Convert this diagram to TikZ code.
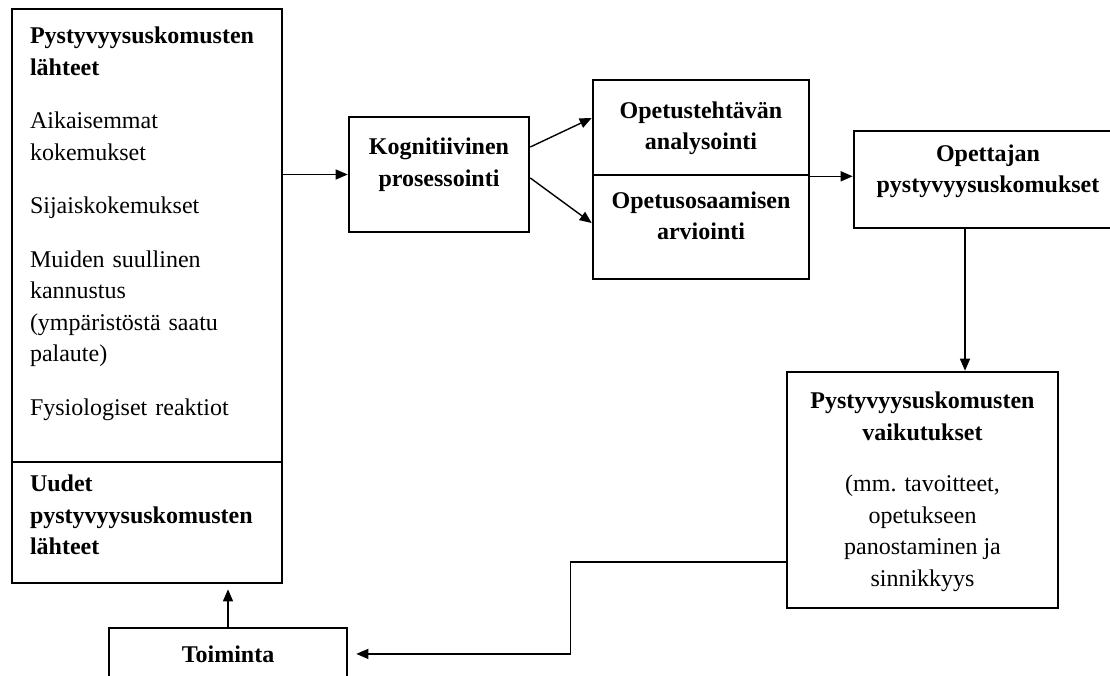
\documentclass[tikz,border=0pt]{standalone}
\usepackage{fontspec}
\setmainfont{Liberation Serif}
\usetikzlibrary{arrows.meta}

\begin{document}
\begin{tikzpicture}[x=1pt, y=-1pt,
    box/.style={draw, line width=2.6pt, inner sep=0pt, font=\fontsize{24}{31.5}\selectfont},
    head/.style={box, font=\fontsize{24}{31.5}\selectfont\bfseries}]
    \useasboundingbox (0,0) rectangle (1110,675);
    \clip (0,0) rectangle (1110,675);

    \node[box, minimum width=270pt, minimum height=453pt, text width=234pt, inner xsep=18pt, align=left, text depth=400.4pt] (lahteet) at (147,235.5)
        {\textbf{Pystyvyysuskomusten}\\\textbf{lähteet}\\[22pt]
         Aikaisemmat\\kokemukset\\[22pt]
         Sijaiskokemukset\\[22pt]
         Muiden suullinen\\kannustus\\(ympäristöstä saatu\\palaute)\\[22pt]
         Fysiologiset reaktiot};
    \node[head, minimum width=270pt, minimum height=121pt, text width=234pt, inner xsep=18pt, align=left, text depth=78.4pt] (uudet) at (147,522.5)
        {Uudet\\pystyvyysuskomusten\\lähteet};

    \node[head, minimum width=180pt, minimum height=115pt, align=center, text depth=24.4pt] (kog) at (439,174.5) {Kognitiivinen\\prosessointi};

    \node[head, minimum width=216pt, minimum height=95pt, align=center, text depth=3.4pt] (analyysi) at (701,127.5) {Opetustehtävän\\analysointi};
    \node[head, minimum width=216pt, minimum height=104pt, align=center, text depth=22.4pt] (arvio) at (701,227) {Opetusosaamisen\\arviointi};

    \node[head, minimum width=268pt, minimum height=97pt, align=center, text depth=21.4pt] (usko) at (988,179.5) {Opettajan\\pystyvyysuskomukset};

    \node[box, minimum width=271pt, minimum height=236pt, align=center, text depth=1.4pt] (vaik) at (922.5,490)
        {\textbf{Pystyvyysuskomusten}\\\textbf{vaikutukset}\\[20pt]
         (mm. tavoitteet,\\opetukseen\\panostaminen ja\\sinnikkyys};

    \node[head, minimum width=238pt, minimum height=51.8pt] (toim) at (228,653.9) {Toiminta};

    \begin{scope}[every path/.style={-{Triangle[length=12pt, width=10pt]}, line width=1.4pt}]
       \draw (lahteet.east |- kog.west) -- (kog.west);
       \draw ([yshift=27.5pt]kog.east) -- ([yshift=9.5pt]analyysi.west);
       \draw ([yshift=-3.5pt]kog.east) -- ([yshift=4pt]arvio.west);
       \draw (analyysi.south east) -- (usko.west |- analyysi.south east);
       \draw ([xshift=-23pt]usko.south) -- ([xshift=-23pt]usko.south |- vaik.north);
       \draw[shorten >=8pt] ([yshift=-72pt]vaik.west) -- ++(-215pt,0) |- (toim.east);
       \draw[shorten >=5pt] (toim.north) -- (toim.north |- uudet.south);
    \end{scope}
\end{tikzpicture}
\end{document}
